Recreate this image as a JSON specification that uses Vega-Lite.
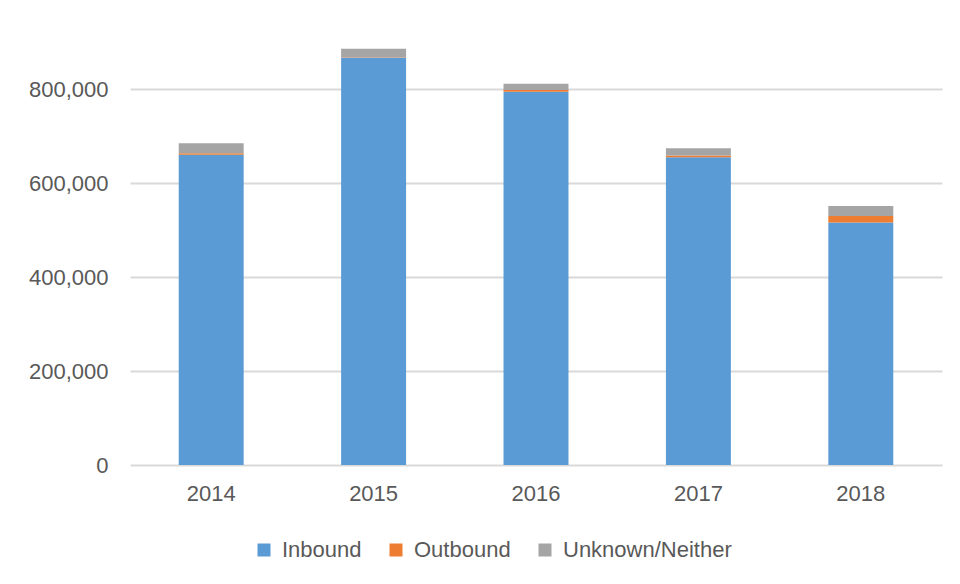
{
  "$schema": "https://vega.github.io/schema/vega-lite/v6.json",
  "width": 812,
  "height": 423,
  "autosize": {"type": "none"},
  "padding": {"left": 130, "top": 42, "right": 18, "bottom": 119},
  "background": "white",
  "config": {
    "view": {"stroke": null},
    "font": "Liberation Sans",
    "axis": {"ticks": false, "domain": false, "title": null}
  },
  "data": {
    "values": [
      {"year": "2014", "type": "Inbound", "value": 660000},
      {"year": "2014", "type": "Outbound", "value": 3500},
      {"year": "2014", "type": "Unknown/Neither", "value": 21000},
      {"year": "2015", "type": "Inbound", "value": 866000},
      {"year": "2015", "type": "Outbound", "value": 1000},
      {"year": "2015", "type": "Unknown/Neither", "value": 18500},
      {"year": "2016", "type": "Inbound", "value": 794000},
      {"year": "2016", "type": "Outbound", "value": 4000},
      {"year": "2016", "type": "Unknown/Neither", "value": 13000},
      {"year": "2017", "type": "Inbound", "value": 655000},
      {"year": "2017", "type": "Outbound", "value": 3500},
      {"year": "2017", "type": "Unknown/Neither", "value": 15500},
      {"year": "2018", "type": "Inbound", "value": 516000},
      {"year": "2018", "type": "Outbound", "value": 14000},
      {"year": "2018", "type": "Unknown/Neither", "value": 21000}
    ]
  },
  "mark": {"type": "bar"},
  "encoding": {
    "x": {
      "field": "year", "type": "nominal",
      "scale": {"paddingInner": 0.6, "paddingOuter": 0.3},
      "axis": {"labelAngle": 0, "labelPadding": 18, "grid": false, "labelFont": "Liberation Sans", "labelFontSize": 22, "labelColor": "#595959"}
    },
    "y": {
      "field": "value", "type": "quantitative", "stack": "zero",
      "scale": {"domain": [0, 900000], "nice": false},
      "axis": {"values": [0, 200000, 400000, 600000, 800000], "format": ",.0f", "labelPadding": 22, "grid": true, "gridColor": "#d9d9d9", "gridWidth": 2, "labelFont": "Liberation Sans", "labelFontSize": 22, "labelColor": "#595959"}
    },
    "color": {
      "field": "type", "type": "nominal",
      "scale": {"domain": ["Inbound", "Outbound", "Unknown/Neither"], "range": ["#5B9BD5", "#ED7D31", "#A5A5A5"]},
      "legend": {"orient": "none", "legendX": 123, "legendY": 497, "direction": "horizontal", "title": null, "symbolType": "square", "symbolSize": 169, "symbolStrokeWidth": 0, "labelOffset": 7, "columnPadding": 23, "labelFont": "Liberation Sans", "labelFontSize": 22, "labelColor": "#595959", "labelLimit": 400}
    },
    "order": {"field": "type", "sort": "ascending"}
  }
}
